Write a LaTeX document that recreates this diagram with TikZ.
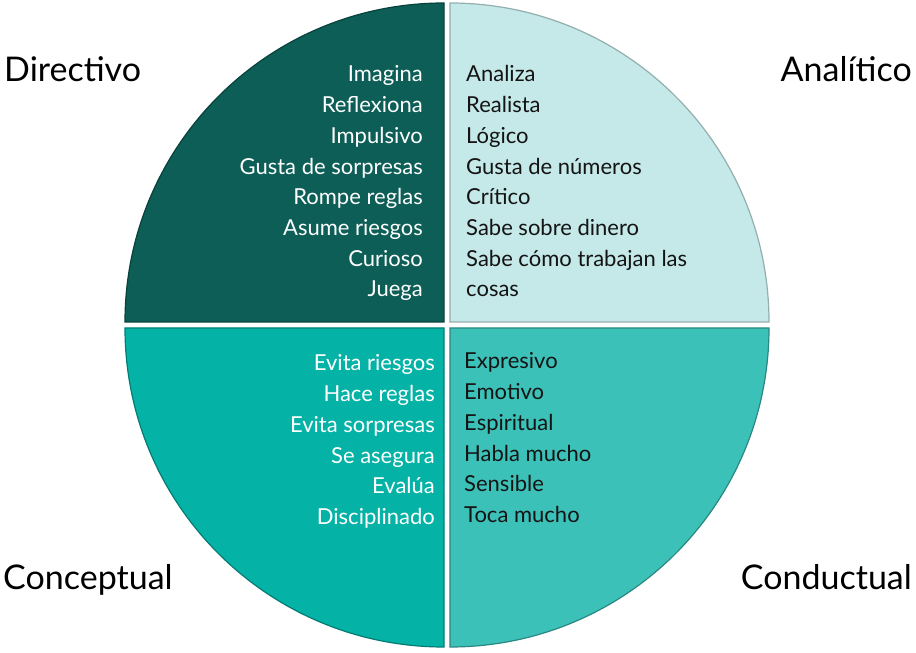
\documentclass[tikz,border=0pt]{standalone}
\usepackage{fontspec}
\setmainfont{Lato}
\definecolor{qtl}{RGB}{12,94,86}
\definecolor{qtr}{RGB}{197,232,232}
\definecolor{qbl}{RGB}{4,178,166}
\definecolor{qbr}{RGB}{60,193,185}
\definecolor{txtdark}{RGB}{20,20,20}
\begin{document}
\begin{tikzpicture}[x=1pt,y=1pt,
  quad/.style={line width=1.2pt},
  item/.style={inner sep=0pt,font=\fontsize{22}{26}\selectfont},
  big/.style={inner sep=0pt,font=\fontsize{34}{40}\selectfont,text=black}]
\useasboundingbox (0,0) rectangle (916,653);
% quadrants (y up: image y -> 653 - y)
\fill[qtl] (444,331) -- (125,331) arc[start angle=180,end angle=90,radius=319] -- cycle;
\draw[quad,qtl!70!black] (444,331) -- (125,331) arc[start angle=180,end angle=90,radius=319] -- cycle;
\fill[qtr] (450,331) -- (450,650) arc[start angle=90,end angle=0,radius=319] -- cycle;
\draw[quad,qtr!75!black] (450,331) -- (450,650) arc[start angle=90,end angle=0,radius=319] -- cycle;
\fill[qbl] (444,325) -- (444,6) arc[start angle=270,end angle=180,radius=319] -- cycle;
\draw[quad,qbl!70!black] (444,325) -- (444,6) arc[start angle=270,end angle=180,radius=319] -- cycle;
\fill[qbr] (450,325) -- (769,325) arc[start angle=0,end angle=-90,radius=319] -- cycle;
\draw[quad,qbr!70!black] (450,325) -- (769,325) arc[start angle=0,end angle=-90,radius=319] -- cycle;
% top-left items
\foreach \t [count=\i] in {Imagina,Reflexiona,Impulsivo,Gusta de sorpresas,Rompe reglas,Asume riesgos,Curioso,Juega}
  \node[item,text=white,anchor=base east] (tl\i) at (423,{653-82-(\i-1)*30.7}) {\t};
% top-right items
\foreach \t [count=\i] in {Analiza,Realista,Lógico,Gusta de números,Crítico,Sabe sobre dinero,Sabe cómo trabajan las,cosas}
  \node[item,text=txtdark,anchor=base west] (tr\i) at (466,{653-82-(\i-1)*30.7}) {\t};
% bottom-left items
\foreach \t [count=\i] in {Evita riesgos,Hace reglas,Evita sorpresas,Se asegura,Evalúa,Disciplinado}
  \node[item,text=white,anchor=base east] (bl\i) at (435,{653-371-(\i-1)*30.7}) {\t};
% bottom-right items
\foreach \t [count=\i] in {Expresivo,Emotivo,Espiritual,Habla mucho,Sensible,Toca mucho}
  \node[item,text=txtdark,anchor=base west] (br\i) at (464,{653-369-(\i-1)*30.7}) {\t};
% outer labels
\node[big,anchor=base west] (dir) at (4,653-82) {Directivo};
\node[big,anchor=base east] (ana) at (912,653-82) {Analítico};
\node[big,anchor=base west] (con) at (3,653-590) {Conceptual};
\node[big,anchor=base east] (cond) at (912,653-590) {Conductual};
\end{tikzpicture}
\end{document}
